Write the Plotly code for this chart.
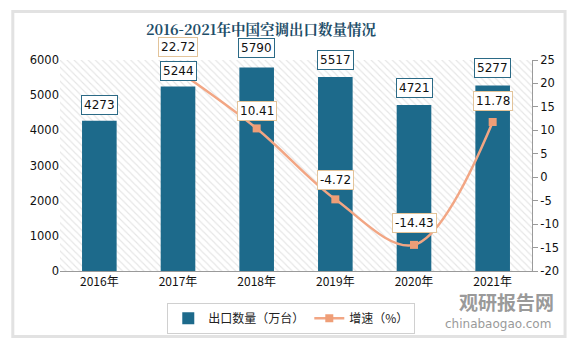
import plotly.graph_objects as go

years = ["2016年", "2017年", "2018年", "2019年", "2020年", "2021年"]
export_qty = [4273, 5244, 5790, 5517, 4721, 5277]
growth = [None, 22.72, 10.41, -4.72, -14.43, 11.78]
bar_label_shift = [6, 6, 9, 7, 7, 7]
line_label_shift = [0, 14, 7, 9, 12, 11]
right_ticks = [-20, -15, -10, -5, 0, 5, 10, 15, 20, 25]

title = "2016-2021年中国空调出口数量情况"
bar_name = "出口数量（万台）"
line_name = "增速（%）"

BAR = "#1d6a8b"
LINE = "#f2a684"
FONT = "DejaVu Sans, Noto Sans CJK SC, sans-serif"

fig = go.Figure()

# hatched plot background (decoration)
fig.add_trace(go.Bar(x=[0.5], y=[1], width=[1], xaxis="x", yaxis="y",
                     marker=dict(color="white", line=dict(width=0),
                                 pattern=dict(shape="\\", fgcolor="#cccccc", bgcolor="white",
                                              size=5, solidity=0.22)),
                     showlegend=False, hoverinfo="skip"))

fig.add_trace(go.Bar(x=years, y=export_qty, name=bar_name, xaxis="x2", yaxis="y2",
                     marker=dict(color=BAR, line=dict(width=0)), width=0.44))

fig.add_trace(go.Scatter(x=years, y=growth, name=line_name, xaxis="x2", yaxis="y3",
                         mode="lines+markers", line=dict(color=LINE, width=2.5, shape="spline"),
                         marker=dict(symbol="square", size=8, color="#ef9e77"),
                         connectgaps=False))

ann = []
for x, v, s in zip(years, export_qty, bar_label_shift):
    ann.append(dict(x=x, y=v, xref="x2", yref="y2", text=str(v), showarrow=False,
                    yanchor="bottom", yshift=s, font=dict(size=12, color="#111", family=FONT),
                    bgcolor="white", bordercolor="#2b6a86", borderwidth=1, borderpad=2))
for x, v, s in zip(years, growth, line_label_shift):
    if v is None:
        continue
    ann.append(dict(x=x, y=v, xref="x2", yref="y3", text=f"{v:.2f}", showarrow=False,
                    yanchor="bottom", yshift=s, font=dict(size=12, color="#111", family=FONT),
                    bgcolor="white", bordercolor="#e3c49a", borderwidth=1, borderpad=2))

ann.append(dict(x=0.426, y=1, xref="paper", yref="paper", yanchor="bottom", yshift=19,
                text=f"<b>{title}</b>", showarrow=False,
                font=dict(size=14.5, color="#1e4e69", family="Noto Serif CJK SC, Noto Sans CJK SC")))
# watermark
ann.append(dict(x=1.05, y=-0.07, xref="paper", yref="paper", xanchor="right", yanchor="top",
                text="<b>观研报告网</b>", showarrow=False,
                font=dict(size=19, color="#9a9a9a", family="Noto Sans CJK SC")))
ann.append(dict(x=1.045, y=-0.21, xref="paper", yref="paper", xanchor="right", yanchor="top",
                text="chinabaogao.com", showarrow=False,
                font=dict(size=12, color="#9a9a9a", family=FONT)))

fig.update_layout(
    width=583, height=352,
    margin=dict(l=60, r=51, t=60, b=81, autoexpand=False),
    paper_bgcolor="white", plot_bgcolor="rgba(0,0,0,0)",
    barmode="overlay",
    font=dict(family=FONT, size=11, color="#222"),
    xaxis=dict(range=[0, 1], visible=False, fixedrange=True),
    yaxis=dict(range=[0, 1], visible=False, fixedrange=True),
    xaxis2=dict(overlaying="x", anchor="y2", showgrid=False, showline=True, linecolor="#9a9a9a",
                linewidth=1, ticks="", tickfont=dict(size=12, color="#111", family="Noto Sans CJK SC")),
    yaxis2=dict(overlaying="y", side="left", range=[0, 6000], dtick=1000, showgrid=False,
                showline=False, ticks="", zeroline=False,
                tickfont=dict(size=11.5, color="#111")),
    yaxis3=dict(overlaying="y", side="right", anchor="x2", range=[-20, 25],
                tickvals=right_ticks, ticktext=[str(t) for t in right_ticks], showgrid=False,
                showline=True, linecolor="#9a9a9a", ticks="outside", ticklen=5, tickcolor="#9a9a9a",
                zeroline=False, tickfont=dict(size=11.5, color="#111")),
    legend=dict(orientation="h", x=0.49, xanchor="center", y=-0.15, yanchor="top",
                bordercolor="#d0d0d0", borderwidth=1, font=dict(size=12, family="Noto Sans CJK SC"),
                itemwidth=30, tracegroupgap=0),
    showlegend=True,
    annotations=ann,
    shapes=[dict(type="rect", xref="paper", yref="paper", x0=-0.1, x1=1.07, y0=-0.31, y1=1.23,
                 line=dict(color="#e2e2e2", width=3), layer="below")],
)

fig.write_html("out.html")
